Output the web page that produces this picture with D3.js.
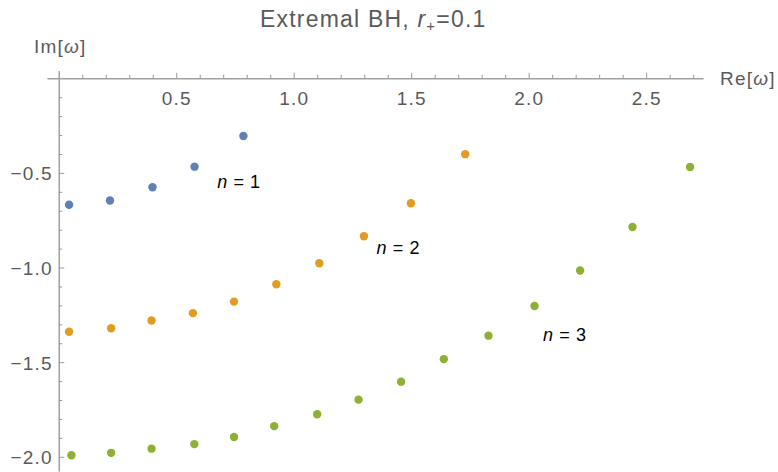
<!DOCTYPE html>
<html lang="en">
  <head>
    <meta charset="utf-8">
    <title>Extremal BH QNM</title>
    <script src="https://d3js.org/d3.v7.min.js"></script>
    <style>
      body { margin: 0; background: white; }
      svg text { font-family: "Liberation Sans", Arial, sans-serif; }
    </style>
  </head>
  <body>
    <svg width="778" height="472"></svg>
    <script>
      // quasinormal frequencies, one pair of arrays per overtone
      var n1Re = [0.044, 0.218, 0.399, 0.578, 0.786];
      var n1Im = [-0.668, -0.646, -0.576, -0.467, -0.305];
      var n2Re = [0.044, 0.223, 0.395, 0.571, 0.746, 0.926, 1.109, 1.299, 1.499, 1.730];
      var n2Im = [-1.339, -1.321, -1.280, -1.241, -1.180, -1.088, -0.977, -0.835, -0.660, -0.401];
      var n3Re = [0.054, 0.223, 0.395, 0.577, 0.746, 0.917, 1.100, 1.276, 1.457, 1.639, 1.829, 2.025, 2.219, 2.442, 2.687];
      var n3Im = [-1.992, -1.979, -1.957, -1.933, -1.895, -1.838, -1.775, -1.698, -1.603, -1.484, -1.360, -1.203, -1.016, -0.786, -0.469];
      var seriesNames = ["1", "2", "3"];
      var labelRe = [0.767, 1.445, 2.154];
      var labelIm = [-0.545, -0.893, -1.354];
      var xMajor = [0.5, 1.0, 1.5, 2.0, 2.5];
      var yMajor = [-0.5, -1.0, -1.5, -2.0];

      var colors = ["#5e81b5", "#e19c24", "#8fb032"];
      var axisColor = "#9a9a9a";
      var textColor = "#5a5a5a";

      var svg = d3.select("svg");
      var x = d3.scaleLinear().domain([-0.05, 2.742]).range([47, 703]);
      var y = d3.scaleLinear().domain([0.04, -2.075]).range([70.7, 471]);

      var xMinor = d3.range(1, 28).map(function(i) { return i / 10; })
        .filter(function(v) { return Math.abs(v * 2 - Math.round(v * 2)) > 1e-6; });
      var yMinor = d3.range(1, 21).map(function(i) { return -i / 10; })
        .filter(function(v) { return Math.abs(v * 2 - Math.round(v * 2)) > 1e-6; });

      // x axis sits on Im = 0, ticks point up, labels below
      var gx = svg.append("g").attr("transform", "translate(0," + y(0) + ")");
      gx.call(d3.axisBottom(x).tickValues(xMinor).tickFormat("").tickSizeInner(-3.5).tickSizeOuter(0));
      gx.append("g").call(d3.axisBottom(x).tickValues(xMajor).tickFormat(d3.format(".1f"))
        .tickSizeInner(-5.5).tickSizeOuter(0).tickPadding(13));

      // y axis sits on Re = 0, ticks point right, labels left
      var gy = svg.append("g").attr("transform", "translate(" + x(0) + ",0)");
      gy.call(d3.axisLeft(y).tickValues(yMinor).tickFormat("").tickSizeInner(-3.5).tickSizeOuter(0));
      gy.append("g").call(d3.axisLeft(y).tickValues(yMajor).tickFormat(d3.format(".1f"))
        .tickSizeInner(-5.5).tickSizeOuter(0).tickPadding(6));

      svg.selectAll(".domain, .tick line").attr("stroke", axisColor).attr("stroke-width", 1);
      svg.selectAll(".tick text").attr("fill", textColor).attr("font-size", 19)
        .attr("letter-spacing", "1.2px")
        .attr("font-family", "Liberation Sans, Arial, sans-serif");
      gy.selectAll(".tick text").attr("dy", "0.36em");

      // axis labels
      var imLab = svg.append("text").attr("x", 34).attr("y", 53).attr("fill", textColor)
        .attr("font-size", 19).attr("letter-spacing", "1.2px");
      imLab.append("tspan").text("Im[");
      imLab.append("tspan").attr("font-style", "italic").text("ω");
      imLab.append("tspan").text("]");
      var reLab = svg.append("text").attr("x", 720).attr("y", 85).attr("fill", textColor)
        .attr("font-size", 19).attr("letter-spacing", "1.2px");
      reLab.append("tspan").text("Re[");
      reLab.append("tspan").attr("font-style", "italic").text("ω");
      reLab.append("tspan").text("]");

      // title
      var title = svg.append("text").attr("x", 260).attr("y", 26.7).attr("fill", textColor)
        .attr("font-size", 23).attr("letter-spacing", "1.2px");
      title.append("tspan").text("Extremal BH, ");
      title.append("tspan").attr("font-style", "italic").text("r");
      title.append("tspan").attr("font-size", 15).attr("dy", 4).text("+");
      title.append("tspan").attr("dy", -4).text("=0.1");

      // points
      var series = [
        d3.zip(n1Re, n1Im),
        d3.zip(n2Re, n2Im),
        d3.zip(n3Re, n3Im)
      ];
      series.forEach(function(pts, i) {
        svg.append("g").selectAll("circle").data(pts).enter().append("circle")
          .attr("cx", function(d) { return x(d[0]); })
          .attr("cy", function(d) { return y(d[1]); })
          .attr("r", 4.2)
          .attr("fill", colors[i]);
      });

      // overtone labels
      seriesNames.forEach(function(name, i) {
        var t = svg.append("text").attr("x", x(labelRe[i])).attr("y", y(labelIm[i]))
          .attr("dy", "0.36em").attr("text-anchor", "middle")
          .attr("font-size", 18).attr("letter-spacing", "0.6px").attr("fill", "black");
        t.append("tspan").attr("font-style", "italic").text("n");
        t.append("tspan").text(" = " + name);
      });
    </script>
  </body>
</html>
